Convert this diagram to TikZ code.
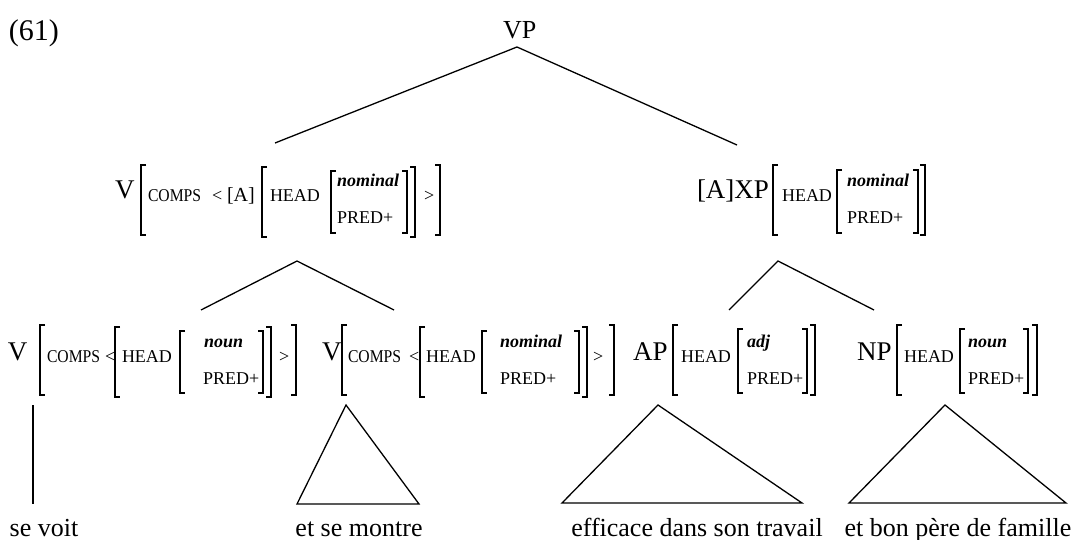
\documentclass[tikz,border=0pt]{standalone}
\usepackage{graphicx}
\usepackage{fontspec}
\setmainfont{Liberation Serif}
\newcommand\fbig{\fontsize{27}{30}\selectfont}
\newcommand\fsml{\fontsize{18}{20}\selectfont}
\newcommand\fbit{\fontsize{18}{20}\selectfont\bfseries\itshape}
\newcommand\fbot{\fontsize{26}{28}\selectfont}
\newcommand\compstxt{\scalebox{0.87}[1]{COMPS}}
\tikzset{
  t/.style={anchor=base west, inner sep=0pt, outer sep=0pt},
  big/.style={t, font=\fbig},
  sm/.style={t, font=\fsml},
  bi/.style={t, font=\fbit},
  word/.style={anchor=base, inner sep=0pt, font=\fbot},
  br/.style={line width=1.3pt},
  edge/.style={line width=1.3pt, line join=miter},
}
% left / right brackets: x, top, bottom
\newcommand\lbr[3]{\draw[br] ({#1+5},#2) -- (#1,#2) -- (#1,#3) -- ({#1+5},#3);}
\newcommand\rbr[3]{\draw[br] ({#1-5},#2) -- (#1,#2) -- (#1,#3) -- ({#1-5},#3);}
\begin{document}
\begin{tikzpicture}[x=1pt,y=-1pt]
\useasboundingbox (0,0) rectangle (1074,540);

% header
\node[t, font=\fontsize{30}{32}\selectfont] (ex) at (9,41) {(61)};
\node[t, font=\fontsize{26}{28}\selectfont] (vp) at (503,39) {VP};

% ---------- middle left: V[COMPS <[A][HEAD[nominal PRED+]]>]
\node[big] (mlV) at (115,199) {V};
\lbr{141}{165}{235}
\node[sm] (mlc) at (148,202) {\compstxt};
\node[sm] (mllt) at (212,202) {<};
\node[t, font=\fontsize{20}{22}\selectfont] (mlA) at (227,202) {[A]};
\lbr{262}{167}{237}
\node[sm] (mlh) at (270,202) {HEAD};
\lbr{331}{171}{233}
\node[bi] (mln) at (337,187) {nominal};
\node[sm] (mlp) at (337,224) {PRED+};
\rbr{407}{171}{233}
\rbr{415}{167}{237}
\node[sm] (mlgt) at (424,202) {>};
\rbr{440}{165}{235}

% ---------- middle right: [A]XP[HEAD[nominal PRED+]]
\node[big] (mrX) at (697,199) {[A]XP};
\lbr{773}{165}{235}
\node[sm] (mrh) at (782,202) {HEAD};
\lbr{837}{170}{233}
\node[bi] (mrn) at (847,187) {nominal};
\node[sm] (mrp) at (847,224) {PRED+};
\rbr{918}{170}{233}
\rbr{925}{165}{235}

% ---------- bottom row
% V1
\node[big] (b1V) at (8,360) {V};
\lbr{40}{325}{395}
\node[sm] (b1c) at (47,362) {\compstxt};
\node[sm] (b1lt) at (105,362) {<};
\lbr{115}{327}{397}
\node[sm] (b1h) at (122,362) {HEAD};
\lbr{180}{331}{393}
\node[bi] (b1n) at (204,347) {noun};
\node[sm] (b1p) at (203,384) {PRED+};
\rbr{263}{331}{393}
\rbr{271}{327}{397}
\node[sm] (b1gt) at (279,362) {>};
\rbr{296}{325}{395}
% V2
\node[big] (b2V) at (322,360) {V};
\lbr{342}{325}{395}
\node[sm] (b2c) at (348,362) {\compstxt};
\node[sm] (b2lt) at (409,362) {<};
\lbr{420}{327}{397}
\node[sm] (b2h) at (426,362) {HEAD};
\lbr{482}{331}{393}
\node[bi] (b2n) at (500,347) {nominal};
\node[sm] (b2p) at (500,384) {PRED+};
\rbr{579}{331}{393}
\rbr{587}{327}{397}
\node[sm] (b2gt) at (593,362) {>};
\rbr{614}{325}{395}
% AP
\node[big] (b3A) at (633,360) {AP};
\lbr{673}{325}{395}
\node[sm] (b3h) at (681,362) {HEAD};
\lbr{738}{329}{393}
\node[bi] (b3n) at (747,347) {adj};
\node[sm] (b3p) at (747,384) {PRED+};
\rbr{807}{329}{393}
\rbr{815}{325}{395}
% NP
\node[big] (b4N) at (857,360) {NP};
\lbr{897}{325}{395}
\node[sm] (b4h) at (904,362) {HEAD};
\lbr{960}{329}{393}
\node[bi] (b4n) at (968,347) {noun};
\node[sm] (b4p) at (968,384) {PRED+};
\rbr{1028}{329}{393}
\rbr{1037}{325}{395}

% ---------- words
\node[word] (w1) at (44,536) {se voit};
\node[word] (w2) at (359,536) {et se montre};
\node[word] (w3) at (697,536) {efficace dans son travail};
\node[word] (w4) at (958,536) {et bon père de famille};

% ---------- tree coordinates
\coordinate (vpA) at (517,47);
\coordinate (vpL) at (275,143);
\coordinate (vpR) at (737,145);
\coordinate (mlA1) at (297,261);
\coordinate (mlL) at (201,310);
\coordinate (mlR) at (394,310);
\coordinate (mrA1) at (778,261);
\coordinate (mrL) at (729,310);
\coordinate (mrR) at (874,310);
\coordinate (t1a) at (33,405);
\coordinate (t1b) at (33,504);
\coordinate (t2a) at (346,405);
\coordinate (t2l) at (297,504);
\coordinate (t2r) at (419,504);
\coordinate (t3a) at (658,405);
\coordinate (t3l) at (562,503);
\coordinate (t3r) at (802,503);
\coordinate (t4a) at (945,405);
\coordinate (t4l) at (849,503);
\coordinate (t4r) at (1066,503);

\draw[edge] (vpL) -- (vpA) -- (vpR);
\draw[edge] (mlL) -- (mlA1) -- (mlR);
\draw[edge] (mrL) -- (mrA1) -- (mrR);
\draw[edge] (t1a) -- (t1b);
\draw[edge] (t2a) -- (t2l) -- (t2r) -- cycle;
\draw[edge] (t3a) -- (t3l) -- (t3r) -- cycle;
\draw[edge] (t4a) -- (t4l) -- (t4r) -- cycle;
\end{tikzpicture}
\end{document}
